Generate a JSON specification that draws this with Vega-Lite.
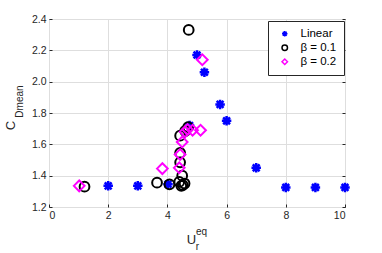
{
  "$schema": "https://vega.github.io/schema/vega-lite/v6.json",
  "width": 296,
  "height": 188,
  "autosize": {"type": "none"},
  "padding": {"left": 49, "top": 19, "right": 37, "bottom": 46},
  "background": "white",
  "config": {
    "view": {"stroke": "#262626", "strokeWidth": 1},
    "font": "Liberation Sans",
    "axis": {"labelFont": "Liberation Sans", "titleFont": "Liberation Sans", "labelColor": "#262626", "titleColor": "#262626", "titleFontWeight": "normal"}
  },
  "datasets": {
    "linear": [
      {"u": 2.0, "cd": 1.335, "series": "Linear"},
      {"u": 3.0, "cd": 1.335, "series": "Linear"},
      {"u": 4.02, "cd": 1.345, "series": "Linear"},
      {"u": 4.75, "cd": 1.72, "series": "Linear"},
      {"u": 5.0, "cd": 2.17, "series": "Linear"},
      {"u": 5.25, "cd": 2.06, "series": "Linear"},
      {"u": 5.78, "cd": 1.855, "series": "Linear"},
      {"u": 6.0, "cd": 1.75, "series": "Linear"},
      {"u": 7.0, "cd": 1.45, "series": "Linear"},
      {"u": 8.0, "cd": 1.325, "series": "Linear"},
      {"u": 9.0, "cd": 1.325, "series": "Linear"},
      {"u": 10.0, "cd": 1.325, "series": "Linear"}
    ],
    "b01": [
      {"u": 1.2, "cd": 1.33, "series": "β = 0.1"},
      {"u": 3.65, "cd": 1.355, "series": "β = 0.1"},
      {"u": 4.07, "cd": 1.345, "series": "β = 0.1"},
      {"u": 4.4, "cd": 1.36, "series": "β = 0.1"},
      {"u": 4.47, "cd": 1.335, "series": "β = 0.1"},
      {"u": 4.52, "cd": 1.34, "series": "β = 0.1"},
      {"u": 4.58, "cd": 1.35, "series": "β = 0.1"},
      {"u": 4.5, "cd": 1.4, "series": "β = 0.1"},
      {"u": 4.43, "cd": 1.485, "series": "β = 0.1"},
      {"u": 4.43, "cd": 1.545, "series": "β = 0.1"},
      {"u": 4.43, "cd": 1.655, "series": "β = 0.1"},
      {"u": 4.6, "cd": 1.685, "series": "β = 0.1"},
      {"u": 4.7, "cd": 1.71, "series": "β = 0.1"},
      {"u": 4.72, "cd": 2.33, "series": "β = 0.1"}
    ],
    "b02": [
      {"u": 1.02, "cd": 1.335, "series": "β = 0.2"},
      {"u": 3.83, "cd": 1.445, "series": "β = 0.2"},
      {"u": 4.4, "cd": 1.45, "series": "β = 0.2"},
      {"u": 4.43, "cd": 1.535, "series": "β = 0.2"},
      {"u": 4.5, "cd": 1.615, "series": "β = 0.2"},
      {"u": 4.6, "cd": 1.68, "series": "β = 0.2"},
      {"u": 4.68, "cd": 1.695, "series": "β = 0.2"},
      {"u": 4.85, "cd": 1.69, "series": "β = 0.2"},
      {"u": 5.12, "cd": 1.69, "series": "β = 0.2"},
      {"u": 5.18, "cd": 2.14, "series": "β = 0.2"}
    ]
  },
  "encoding": {
    "color": {
      "field": "series", "type": "nominal",
      "scale": {"domain": ["Linear", "β = 0.1", "β = 0.2"], "range": ["#0000ff", "#000000", "#ff00ff"]},
      "legend": {
        "title": null, "orient": "none", "legendX": 219, "legendY": 2,
        "fillColor": "white", "strokeColor": "#262626", "padding": 7,
        "symbolSize": 30, "symbolStrokeWidth": 1.5, "symbolOpacity": 1, "labelFontSize": 11.5, "labelColor": "#000000",
        "labelOffset": 10, "rowPadding": 1, "symbolOffset": 4
      }
    },
    "shape": {
      "field": "series", "type": "nominal",
      "scale": {"domain": ["Linear", "β = 0.1", "β = 0.2"], "range": ["M-1,0H1M0,-1V1M-0.72,-0.72L0.72,0.72M-0.72,0.72L0.72,-0.72", "circle", "diamond"]}
    }
  },
  "resolve": {"axis": {"x": "independent", "y": "independent"}},
  "layer": [
    {
      "data": {"name": "linear"},
      "mark": {"type": "point", "filled": false, "opacity": 1, "strokeWidth": 2.5, "size": 90},
      "encoding": {
        "x": {"field": "u", "type": "quantitative", "scale": {"domain": [0, 10], "nice": false},
          "axis": {"orient": "bottom", "values": [0, 2, 4, 6, 8, 10], "grid": true, "gridColor": "#dedede", "domain": false,
            "tickSize": -3, "tickColor": "#262626", "labelFontSize": 10.5, "labelPadding": 6,
            "title": "U", "titleFontSize": 13, "titleX": 142, "titleY": 36, "titleBaseline": "alphabetic", "titleAlign": "center", "titleAnchor": null}},
        "y": {"field": "cd", "type": "quantitative", "scale": {"domain": [1.2, 2.4], "nice": false, "zero": false},
          "axis": {"orient": "left", "values": [1.2, 1.4, 1.6, 1.8, 2, 2.2, 2.4], "grid": true, "gridColor": "#dedede", "domain": false,
            "tickSize": -3, "tickColor": "#262626", "labelFontSize": 10.5, "labelPadding": 6,
            "title": "C", "titleFontSize": 13, "titleX": -39, "titleY": 106, "titleBaseline": "middle", "titleAlign": "center", "titleAngle": -90, "titleAnchor": null}}
      }
    },
    {
      "data": {"name": "b01"},
      "mark": {"type": "point", "filled": false, "opacity": 1, "strokeWidth": 2, "size": 95},
      "encoding": {
        "x": {"field": "u", "type": "quantitative", "scale": {"domain": [0, 10], "nice": false},
          "axis": {"orient": "bottom", "grid": false, "domain": false, "ticks": false, "labels": false,
            "title": "eq", "titleFontSize": 10, "titleX": 152, "titleY": 27, "titleBaseline": "alphabetic", "titleAlign": "center", "titleAnchor": null}},
        "y": {"field": "cd", "type": "quantitative", "scale": {"domain": [1.2, 2.4], "nice": false, "zero": false},
          "axis": {"orient": "left", "grid": false, "domain": false, "ticks": false, "labels": false,
            "title": "Dmean", "titleFontSize": 10, "titleX": -30, "titleY": 82, "titleBaseline": "middle", "titleAlign": "center", "titleAngle": -90, "titleAnchor": null}}
      }
    },
    {
      "data": {"name": "b02"},
      "mark": {"type": "point", "filled": false, "opacity": 1, "strokeWidth": 2, "size": 115},
      "encoding": {
        "x": {"field": "u", "type": "quantitative", "scale": {"domain": [0, 10], "nice": false},
          "axis": {"orient": "bottom", "grid": false, "domain": false, "ticks": false, "labels": false,
            "title": "r", "titleFontSize": 10, "titleX": 148, "titleY": 42, "titleBaseline": "alphabetic", "titleAlign": "center", "titleAnchor": null}},
        "y": {"field": "cd", "type": "quantitative", "scale": {"domain": [1.2, 2.4], "nice": false, "zero": false},
          "axis": {"orient": "right", "values": [1.2, 1.4, 1.6, 1.8, 2, 2.2, 2.4], "grid": false, "domain": false, "ticks": true, "tickSize": -3, "tickColor": "#262626", "labels": false, "title": null}}
      }
    }
  ]
}
